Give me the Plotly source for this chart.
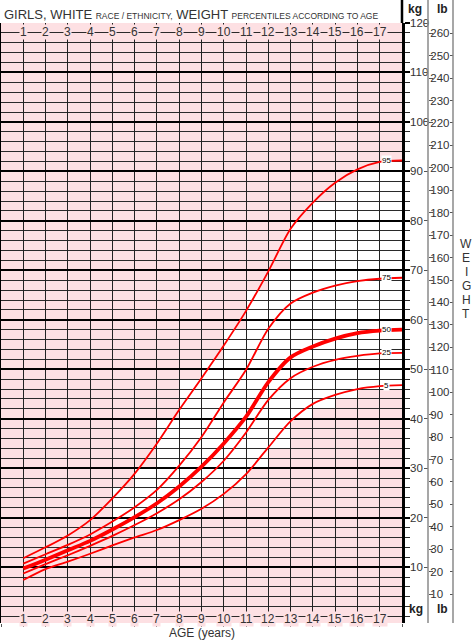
import plotly.graph_objects as go

# ---------------- data ----------------
ages = list(range(1, 19))
percentile_names = ["95", "75", "50", "25", "5"]
p95 = [11.8, 14.0, 16.4, 19.5, 23.9, 28.9, 35.0, 41.8, 48.2, 54.8, 61.8, 69.8, 78.4, 83.7, 87.7, 90.4, 91.9, 92.2]
p75 = [10.7, 12.6, 14.5, 16.6, 19.2, 22.1, 25.6, 30.5, 36.3, 43.3, 49.9, 58.2, 63.3, 65.5, 66.9, 67.8, 68.3, 68.5]
p50 = [9.7, 11.5, 13.4, 15.3, 17.6, 20.1, 22.9, 26.3, 30.3, 35.0, 40.4, 47.4, 52.4, 54.6, 56.2, 57.3, 57.8, 58.0]
p25 = [8.7, 10.6, 12.4, 14.3, 16.3, 18.5, 20.9, 23.7, 27.2, 31.5, 37.2, 43.8, 48.2, 50.5, 51.9, 52.7, 53.2, 53.3]
p5 = [7.4, 9.6, 11.1, 12.7, 14.4, 16.0, 17.5, 19.5, 21.8, 24.8, 28.8, 34.2, 39.5, 43.0, 44.8, 46.0, 46.6, 46.8]
series = [p95, p75, p50, p25, p5]

# white (unshaded) band per one-year column: column start age, lower and upper kg
band_start = [5, 6, 7, 8, 9, 10, 11, 12, 13, 14, 15, 16, 17]
band_low = [18, 18, 18, 20, 22, 26, 30, 34, 40, 42, 44, 46, 46]
band_high = [26, 30, 40, 48, 52, 58, 66, 70, 80, 84, 88, 90, 92]

age_labels = list(range(1, 18))
kg_ticks = list(range(10, 121, 10))
lb_ticks = list(range(10, 261, 10))

# ---------------- style ----------------
FONT = "Liberation Sans, Arial, sans-serif"
PINK = "#fde0e3"
RED = "#ff0000"
TXT = "#333333"
W, H = 474, 641
ML, MR, MT, MB = 1, 0, 23, 18
PW = W - ML - MR
PH = H - MT - MB
def px_x(p):
    return (p - ML) / PW
def px_y(p):
    return (H - MB - p) / PH

KG_MIN, KG_MAX = -1.3, 120
LB_PER_KG = 2.20462

fig = go.Figure()

widths = [1.8, 1.8, 3.8, 1.8, 1.8]
for name, vals, w in zip(percentile_names, series, widths):
    fig.add_trace(go.Scatter(x=ages, y=vals, mode="lines", name=name,
                             line=dict(color=RED, width=w, shape="spline", smoothing=0.8),
                             hoverinfo="skip", showlegend=False))

# white band cells (below gridlines)
shapes = []
for a, lo, hi in zip(band_start, band_low, band_high):
    shapes.append(dict(type="rect", xref="x", yref="y", x0=a, x1=a + 1, y0=lo, y1=hi,
                       fillcolor="white", line=dict(width=0), layer="below"))

top_y = px_y(0)
xr = px_x(402)
d1 = px_x(428)
d2 = px_x(453)
shapes.append(dict(type="line", xref="paper", yref="paper", x0=xr, x1=xr, y0=1, y1=top_y,
                   line=dict(color="black", width=2.5)))
for d in (d1, d2):
    shapes.append(dict(type="line", xref="paper", yref="paper", x0=d, x1=d, y0=0, y1=top_y,
                       line=dict(color="#8a8a8a", width=1.5)))

annotations = []
# age labels on top and bottom rows
for a in age_labels:
    for yy in (118.2, -0.4):
        annotations.append(dict(x=a, y=yy, xref="x", yref="y", text=str(a), showarrow=False,
                                font=dict(family=FONT, size=12, color=TXT), bgcolor=PINK,
                                borderpad=0, xanchor="center", yanchor="middle"))
# percentile labels
for name, vals in zip(percentile_names, series):
    annotations.append(dict(x=17.3, y=vals[-1], xref="x", yref="y", text=name, showarrow=False,
                            font=dict(family=FONT, size=8, color="black"), bgcolor="white",
                            borderpad=0, xanchor="center", yanchor="middle"))
# title
annotations.append(dict(
    x=px_x(2), y=px_y(14), xref="paper", yref="paper", xanchor="left", yanchor="middle",
    showarrow=False, font=dict(family=FONT, size=13, color=TXT),
    text="GIRLS, WHITE <span style='font-size:8.5px'>RACE / ETHNICITY,</span> WEIGHT "
         "<span style='font-size:8.5px'>PERCENTILES ACCORDING TO AGE</span>"))
# axis title
annotations.append(dict(x=9, y=px_y(633), xref="x", yref="paper", text="AGE (years)",
                        showarrow=False, font=dict(family=FONT, size=12, color=TXT),
                        xanchor="center", yanchor="middle"))
# unit headers
for txt, xp, yp in (("kg", 415, 9), ("lb", 442, 9), ("kg", 416, 609), ("lb", 442, 609)):
    annotations.append(dict(x=px_x(xp), y=px_y(yp), xref="paper", yref="paper", text="<b>%s</b>" % txt,
                            showarrow=False, font=dict(family=FONT, size=12, color="#222"),
                            xanchor="center", yanchor="middle"))
# WEIGHT vertical letters
for i, ch in enumerate("WEIGHT"):
    annotations.append(dict(x=px_x(466), y=px_y(244 + 14 * i), xref="paper", yref="paper", text=ch,
                            showarrow=False, font=dict(family=FONT, size=12, color=TXT),
                            xanchor="center", yanchor="middle"))

fig.update_layout(
    width=W, height=H, margin=dict(l=ML, r=MR, t=MT, b=MB, autoexpand=False),
    paper_bgcolor="white", plot_bgcolor=PINK, showlegend=False,
    font=dict(family=FONT, color=TXT),
    shapes=shapes, annotations=annotations,
    xaxis=dict(domain=[0, px_x(402)], range=[0, 18], tickvals=list(range(0, 19)),
               showgrid=True, gridcolor="#222", gridwidth=1.3, zeroline=False,
               ticks="outside", ticklen=3, tickwidth=1, tickcolor="#555",
               showticklabels=False, showline=False, automargin=False),
    yaxis=dict(range=[KG_MIN, KG_MAX], side="right", tickvals=kg_ticks,
               ticktext=[str(v) for v in kg_ticks], automargin=False,
               ticks="outside", ticklen=5, tickwidth=1.5, tickcolor="black",
               showgrid=True, gridcolor="black", gridwidth=2.2, zeroline=False,
               showline=True, linewidth=2.5, linecolor="black", mirror=True,
               tickfont=dict(family=FONT, size=11.5, color=TXT), ticklabelstandoff=-2,
               minor=dict(dtick=2, tick0=0, showgrid=True, gridcolor="#2a2a2a", gridwidth=1.1,
                          ticks="outside", ticklen=5, tickcolor="#2a2a2a", tickwidth=1)),
    yaxis2=dict(range=[KG_MIN * LB_PER_KG, KG_MAX * LB_PER_KG], overlaying="y", anchor="free",
                position=d1, side="right", tickvals=lb_ticks, ticktext=[str(v) for v in lb_ticks],
                ticks="outside", ticklen=4, tickwidth=1, tickcolor="#555", showgrid=False,
                zeroline=False, showline=False, tickfont=dict(family=FONT, size=11.5, color=TXT),
                ticklabelstandoff=-5, automargin=False),
    yaxis3=dict(range=[KG_MIN, KG_MAX], overlaying="y", anchor="free", position=d1, side="left",
                tickvals=kg_ticks, showticklabels=False, ticks="outside", ticklen=4, tickwidth=1,
                tickcolor="#555", showgrid=False, zeroline=False, showline=False, automargin=False),
    yaxis4=dict(range=[KG_MIN * LB_PER_KG, KG_MAX * LB_PER_KG], overlaying="y", anchor="free",
                position=d2, side="left", tickvals=lb_ticks, showticklabels=False, ticks="outside",
                ticklen=3, tickwidth=1, tickcolor="#555", showgrid=False, zeroline=False,
                showline=False, automargin=False),
)
# invisible traces to activate the extra axes
for ax in ("y2", "y3", "y4"):
    fig.add_trace(go.Scatter(x=[None], y=[None], yaxis=ax, showlegend=False, hoverinfo="skip"))

fig.write_html("out.html", config={"displayModeBar": False},
               post_script="document.body.style.margin='0';")
